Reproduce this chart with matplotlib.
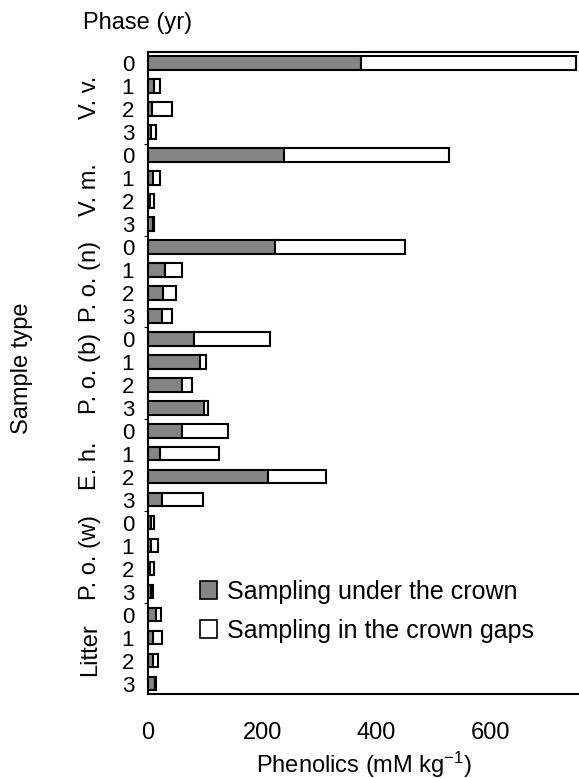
import numpy as np
import matplotlib.pyplot as plt
from matplotlib.patches import Patch
from matplotlib.transforms import blended_transform_factory

plt.rcParams['font.family'] = ['Liberation Sans', 'DejaVu Sans']
plt.rcParams['mathtext.default'] = 'regular'

groups = ['V. v.', 'V. m.', 'P. o. (n)', 'P. o. (b)', 'E. h.', 'P. o. (w)', 'Litter']
phases = ['0', '1', '2', '3']

# under the crown, and total (under + gaps), per group x phase
under = [373, 11, 7, 5,
         238, 9, 3, 8,
         223, 30, 27, 24,
         80, 91, 59, 98,
         59, 21, 210, 24,
         6, 6, 3, 6,
         14, 9, 9, 12]
total = [750, 21, 42, 14,
         527, 21, 10, 10,
         450, 59, 49, 42,
         213, 102, 77, 105,
         140, 125, 311, 97,
         10, 18, 10, 8,
         22, 25, 17, 14]

under = np.array(under)
gaps = np.array(total) - under
labels = phases * len(groups)
y = np.arange(len(labels))

fig = plt.figure(figsize=(5.79, 7.78), dpi=100)
ax = fig.add_axes([0.2556, 0.108, 0.7444, 0.825])

ax.barh(y, under, height=0.58, color='#858585', edgecolor='black', linewidth=1.5)
ax.barh(y, gaps, left=under, height=0.58, color='white', edgecolor='black', linewidth=1.5)

ax.set_ylim(len(labels) - 0.55, -0.48)
ax.set_xlim(0, 755)
ax.set_yticks(y)
ax.set_yticklabels(labels, fontsize=16)
ax.set_xticks([0, 200, 400, 600])
ax.tick_params(axis='x', length=0, pad=20, labelsize=17)
ax.tick_params(axis='y', length=0, pad=10)
ax.set_yticks(np.arange(3.5, len(labels) - 1, 4), minor=True)
ax.tick_params(axis='y', which='minor', length=3, width=0.8)

for s in ['left', 'top', 'bottom']:
    ax.spines[s].set_linewidth(1.5)
ax.spines['right'].set_visible(False)

tr = blended_transform_factory(ax.transAxes, ax.transData)
for i, g in enumerate(groups):
    ax.text(-0.135, i * 4 + 1.5, g, transform=tr, rotation=90,
            ha='center', va='center', fontsize=17)

ax.set_xlabel('Phenolics (mM kg$^{-1}$)', fontsize=17, labelpad=4)
fig.text(0.038, 0.527, 'Sample type', rotation=90, ha='center', va='center', fontsize=17)
fig.text(0.143, 0.970, 'Phase (yr)', ha='left', va='center', fontsize=17)

handles = [Patch(facecolor='#858585', edgecolor='black', linewidth=1.2),
           Patch(facecolor='white', edgecolor='black', linewidth=1.2)]
ax.legend(handles, ['Sampling under the crown', 'Sampling in the crown gaps'],
          loc='upper left', bbox_to_anchor=(0.12, 0.178), frameon=False,
          fontsize=18, handlelength=0.7, handleheight=0.7,
          handletextpad=0.4, labelspacing=0.6, borderpad=0, borderaxespad=0)

fig.savefig('out.png', dpi=100)
